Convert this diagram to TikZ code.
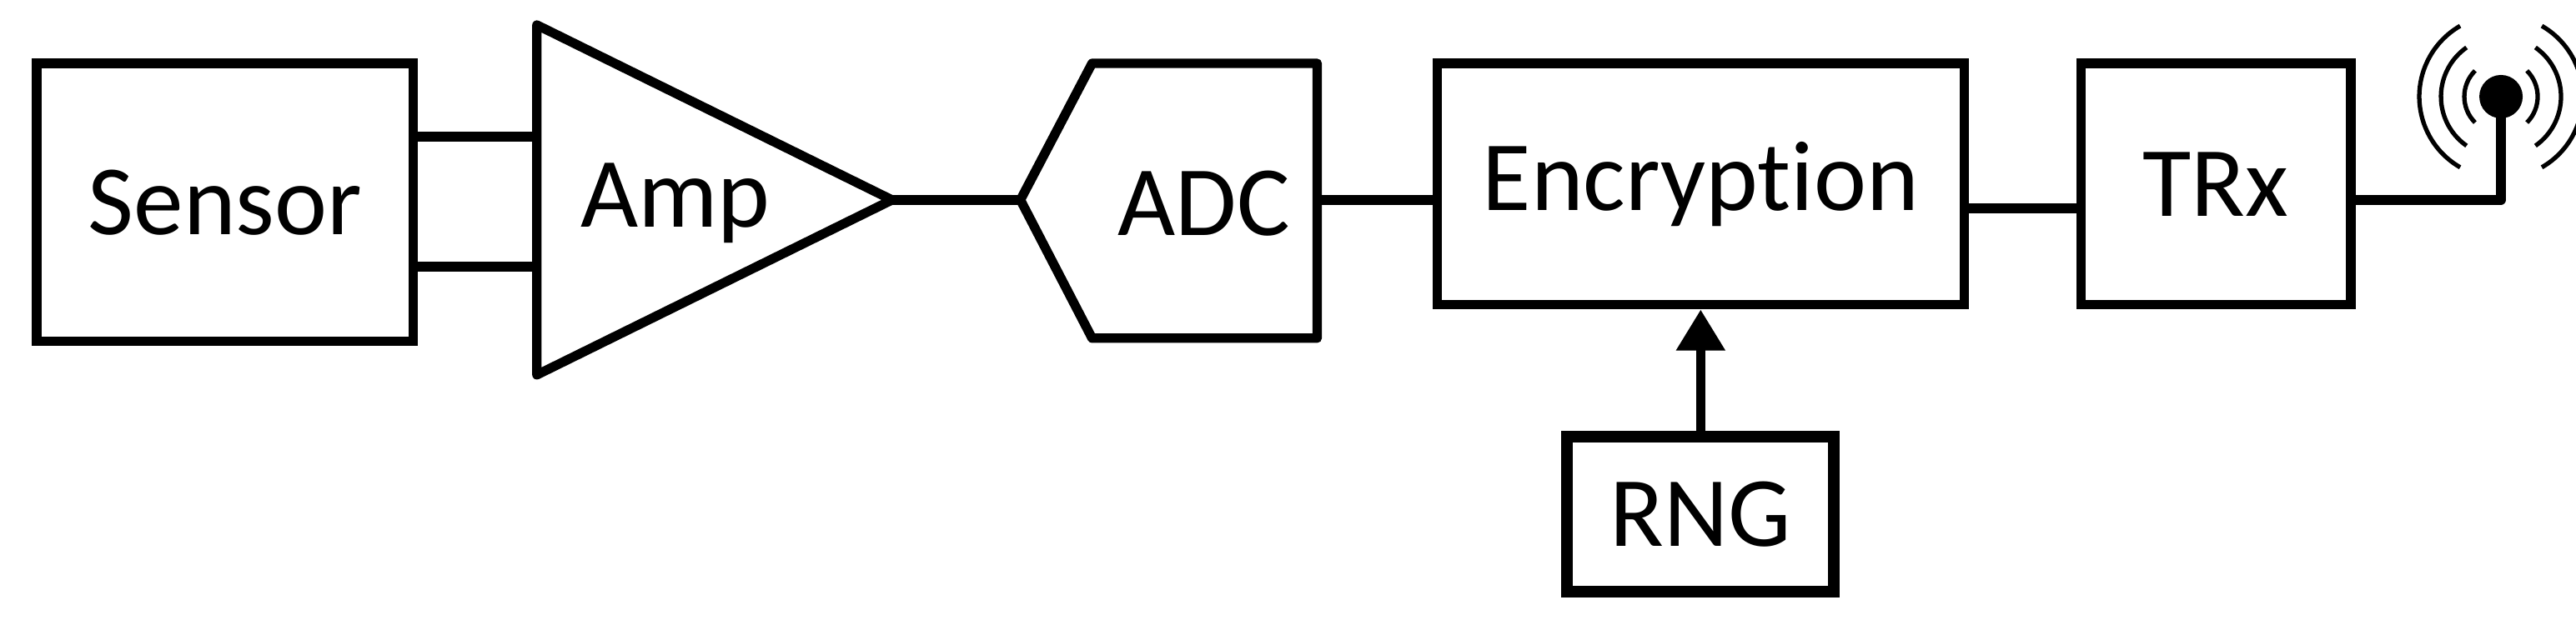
\documentclass[tikz,border=0pt]{standalone}
\usepackage{fontspec}
\setmainfont{Carlito}[Ligatures=NoCommon]
\usetikzlibrary{arrows.meta,positioning}

\begin{document}
\begin{tikzpicture}[x=0.02cm,y=-0.02cm,line width=3.2pt,
    block/.style={rectangle,draw,line width=3.2pt,inner sep=0pt,font=\fontsize{34}{36}\selectfont},
    lbl/.style={font=\fontsize{34}{36}\selectfont}]
\useasboundingbox (0,0) rectangle (1545,378);

% blocks
\node[block,minimum width=4.52cm,minimum height=3.34cm] (sensor) at (135,121.5) {Sensor};
\node[block,minimum width=6.32cm,minimum height=2.9cm] (enc) at (1020,110.5) {Encryption};
\node[block,minimum width=3.24cm,minimum height=2.9cm] (trx) at (1329,110.5) {TRx};
\node[block,line width=4pt,minimum width=3.2cm,minimum height=1.86cm] (rng) at (1020,308.5) {RNG};

% amplifier
\coordinate (amptop) at (322,15);
\coordinate (ampbot) at (322,225);
\coordinate (amptip) at (535,120);
\draw[line join=round] (amptop) -- (amptip) -- (ampbot) -- cycle;
\node[lbl] (amp) at (405,122) {Amp};

% adc
\coordinate (adcin) at (612,120);
\coordinate (adcout) at (790,120);
\draw[line join=round] (adcin) -- (655,38) -- (790,38) -- (790,203) -- (655,203) -- cycle;
\node[lbl] (adc) at (722,122) {ADC};

% connections
\draw (sensor.east |- 0,82) -- (amptop |- 0,82);
\draw (sensor.east |- 0,160) -- (amptop |- 0,160);
\draw (amptip) -- (adcin);
\draw (adcout) -- (enc.west |- adcout);
\draw (enc.east |- 0,125) -- (trx.west |- 0,125);
\draw[-{Triangle[length=14pt,width=16pt]}] (rng) -- (enc);

% antenna
\coordinate (ant) at (1500,58);
\draw[line join=round] (trx.east |- 0,120) -- (ant |- 0,120) -- (ant);
\fill (ant) circle (13);
\foreach \r/\a in {22/45,36/55,49/60} {
  \draw[line width=1.5pt] (ant) ++(180-\a:\r) arc (180-\a:180+\a:\r);
  \draw[line width=1.5pt] (ant) ++(\a:\r) arc (\a:-\a:\r);
}
\end{tikzpicture}
\end{document}
